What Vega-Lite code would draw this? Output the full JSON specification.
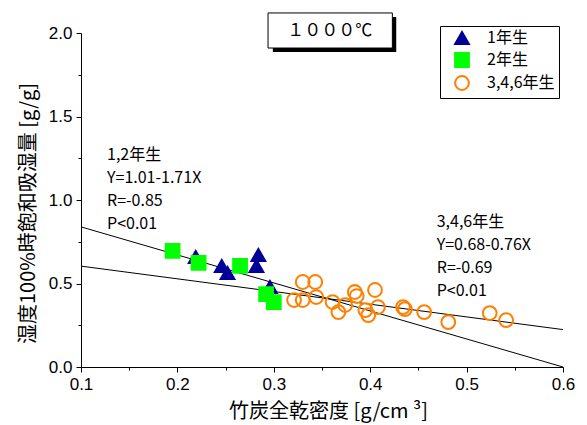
{
  "$schema": "https://vega.github.io/schema/vega-lite/v6.json",
  "width": 482,
  "height": 334,
  "autosize": {"type": "none"},
  "padding": {"left": 81, "top": 33, "right": 24, "bottom": 58},
  "background": "white",
  "config": {"view": {"stroke": null}, "font": "Noto Sans CJK JP"},
  "datasets": {
    "points": [
      {"density": 0.219, "moisture": 0.659, "group": "1年生"},
      {"density": 0.246, "moisture": 0.605, "group": "1年生"},
      {"density": 0.252, "moisture": 0.563, "group": "1年生"},
      {"density": 0.284, "moisture": 0.671, "group": "1年生"},
      {"density": 0.282, "moisture": 0.605, "group": "1年生"},
      {"density": 0.296, "moisture": 0.479, "group": "1年生"},
      {"density": 0.195, "moisture": 0.695, "group": "2年生"},
      {"density": 0.222, "moisture": 0.623, "group": "2年生"},
      {"density": 0.265, "moisture": 0.605, "group": "2年生"},
      {"density": 0.292, "moisture": 0.437, "group": "2年生"},
      {"density": 0.300, "moisture": 0.389, "group": "2年生"},
      {"density": 0.321, "moisture": 0.401, "group": "3,4,6年生"},
      {"density": 0.330, "moisture": 0.401, "group": "3,4,6年生"},
      {"density": 0.330, "moisture": 0.509, "group": "3,4,6年生"},
      {"density": 0.343, "moisture": 0.509, "group": "3,4,6年生"},
      {"density": 0.344, "moisture": 0.419, "group": "3,4,6年生"},
      {"density": 0.361, "moisture": 0.389, "group": "3,4,6年生"},
      {"density": 0.367, "moisture": 0.329, "group": "3,4,6年生"},
      {"density": 0.374, "moisture": 0.371, "group": "3,4,6年生"},
      {"density": 0.384, "moisture": 0.449, "group": "3,4,6年生"},
      {"density": 0.386, "moisture": 0.425, "group": "3,4,6年生"},
      {"density": 0.395, "moisture": 0.341, "group": "3,4,6年生"},
      {"density": 0.398, "moisture": 0.311, "group": "3,4,6年生"},
      {"density": 0.405, "moisture": 0.461, "group": "3,4,6年生"},
      {"density": 0.408, "moisture": 0.359, "group": "3,4,6年生"},
      {"density": 0.434, "moisture": 0.359, "group": "3,4,6年生"},
      {"density": 0.436, "moisture": 0.347, "group": "3,4,6年生"},
      {"density": 0.456, "moisture": 0.329, "group": "3,4,6年生"},
      {"density": 0.481, "moisture": 0.269, "group": "3,4,6年生"},
      {"density": 0.524, "moisture": 0.323, "group": "3,4,6年生"},
      {"density": 0.541, "moisture": 0.281, "group": "3,4,6年生"}
    ],
    "lines": [
      {"fit": "1,2年生", "density": 0.1, "moisture": 0.839},
      {"fit": "1,2年生", "density": 0.6, "moisture": 0.0},
      {"fit": "3,4,6年生", "density": 0.1, "moisture": 0.604},
      {"fit": "3,4,6年生", "density": 0.6, "moisture": 0.224}
    ],
    "one": [{"note": "annotation"}]
  },
  "layer": [
    {
      "data": {"name": "one"},
      "mark": {"type": "rect", "fill": "black"},
      "encoding": {
        "x": {"datum": 0.299, "type": "quantitative"},
        "x2": {"datum": 0.427},
        "y": {"datum": 1.886, "type": "quantitative"},
        "y2": {"datum": 2.096}
      }
    },
    {
      "data": {"name": "one"},
      "mark": {"type": "rect", "fill": "white", "stroke": "black", "strokeWidth": 1},
      "encoding": {
        "x": {"datum": 0.294, "type": "quantitative"},
        "x2": {"datum": 0.423},
        "y": {"datum": 1.91, "type": "quantitative"},
        "y2": {"datum": 2.12}
      }
    },
    {
      "data": {"name": "one"},
      "mark": {"type": "text", "text": "１０００℃", "font": "Noto Sans CJK JP", "fontSize": 17, "align": "center", "baseline": "middle", "color": "black"},
      "encoding": {
        "x": {"datum": 0.358, "type": "quantitative"},
        "y": {"datum": 2.012, "type": "quantitative"}
      }
    },
    {
      "data": {"name": "lines"},
      "mark": {"type": "line", "color": "black", "strokeWidth": 1},
      "encoding": {
        "x": {"field": "density", "type": "quantitative"},
        "y": {"field": "moisture", "type": "quantitative"},
        "detail": {"field": "fit", "type": "nominal"}
      }
    },
    {
      "data": {"name": "points"},
      "mark": {"type": "point", "filled": true, "strokeWidth": 2, "opacity": 1, "size": 190},
      "encoding": {
        "x": {
          "field": "density", "type": "quantitative",
          "scale": {"domain": [0.1, 0.6], "nice": false, "zero": false},
          "axis": {
            "values": [0.1, 0.15, 0.2, 0.25, 0.3, 0.35, 0.4, 0.45, 0.5, 0.55, 0.6],
            "labelExpr": "round(datum.value*20)%2==0 ? format(datum.value,'.1f') : ''",
            "tickSize": {"condition": {"test": "round(datum.value*20)%2==1", "value": 3}, "value": 5},
            "grid": false, "labelFlush": false, "labelOverlap": false,
            "labelFont": "Liberation Sans", "labelFontSize": 17, "labelColor": "black", "labelPadding": 4,
            "tickColor": "black", "domainColor": "black",
            "title": "竹炭全乾密度 [g/cm ³]", "titleFont": "Noto Sans CJK JP", "titleFontSize": 20,
            "titleFontWeight": "normal", "titleColor": "black",
            "titleX": 247, "titleY": 44, "titleBaseline": "middle", "titleAlign": "center"
          }
        },
        "y": {
          "field": "moisture", "type": "quantitative",
          "scale": {"domain": [0, 2], "nice": false, "zero": false},
          "axis": {
            "values": [0, 0.25, 0.5, 0.75, 1, 1.25, 1.5, 1.75, 2],
            "labelExpr": "round(datum.value*4)%2==0 ? format(datum.value,'.1f') : ''",
            "tickSize": {"condition": {"test": "round(datum.value*4)%2==1", "value": 3}, "value": 5},
            "grid": false, "labelFlush": false, "labelOverlap": false,
            "labelFont": "Liberation Sans", "labelFontSize": 17, "labelColor": "black", "labelPadding": 4,
            "tickColor": "black", "domainColor": "black",
            "title": "湿度100%時飽和吸湿量 [g/g]", "titleFont": "Noto Sans CJK JP", "titleFontSize": 20,
            "titleFontWeight": "normal", "titleColor": "black",
            "titleX": -53, "titleY": 180, "titleBaseline": "middle", "titleAlign": "center", "titleAngle": -90
          }
        },
        "shape": {
          "field": "group", "type": "nominal",
          "scale": {"domain": ["1年生", "2年生", "3,4,6年生"], "range": ["triangle-up", "square", "circle"]},
          "legend": {"title": null, "orient": "none", "legendX": 359, "legendY": -7, "strokeColor": "black", "fillColor": "white", "padding": 4, "symbolOffset": 10, "labelFont": "Noto Sans CJK JP", "labelFontSize": 16, "labelColor": "black", "symbolSize": 190, "symbolStrokeWidth": 2, "rowPadding": 1, "labelOffset": 17}
        },
        "fill": {
          "field": "group", "type": "nominal",
          "scale": {"domain": ["1年生", "2年生", "3,4,6年生"], "range": ["#000099", "#00ff00", "transparent"]},
          "legend": {"title": null, "orient": "none", "legendX": 359, "legendY": -7, "strokeColor": "black", "fillColor": "white", "padding": 4, "symbolOffset": 10, "labelFont": "Noto Sans CJK JP", "labelFontSize": 16, "labelColor": "black", "symbolSize": 190, "symbolStrokeWidth": 2, "rowPadding": 1, "labelOffset": 17}
        },
        "stroke": {
          "field": "group", "type": "nominal",
          "scale": {"domain": ["1年生", "2年生", "3,4,6年生"], "range": ["#000099", "#00ff00", "#ff8000"]},
          "legend": {"title": null, "orient": "none", "legendX": 359, "legendY": -7, "strokeColor": "black", "fillColor": "white", "padding": 4, "symbolOffset": 10, "labelFont": "Noto Sans CJK JP", "labelFontSize": 16, "labelColor": "black", "symbolSize": 190, "symbolStrokeWidth": 2, "rowPadding": 1, "labelOffset": 17}
        }
      }
    },
    {
      "data": {"name": "one"},
      "mark": {"type": "text", "text": ["1,2年生", "Y=1.01-1.71X", "R=-0.85", "P<0.01"], "font": "Noto Sans CJK JP", "fontSize": 16, "align": "left", "baseline": "top", "lineHeight": 23, "color": "black"},
      "encoding": {
        "x": {"datum": 0.127, "type": "quantitative"},
        "y": {"datum": 1.315, "type": "quantitative"}
      }
    },
    {
      "data": {"name": "one"},
      "mark": {"type": "text", "text": ["3,4,6年生", "Y=0.68-0.76X", "R=-0.69", "P<0.01"], "font": "Noto Sans CJK JP", "fontSize": 16, "align": "left", "baseline": "top", "lineHeight": 23, "color": "black"},
      "encoding": {
        "x": {"datum": 0.469, "type": "quantitative"},
        "y": {"datum": 0.915, "type": "quantitative"}
      }
    }
  ]
}
